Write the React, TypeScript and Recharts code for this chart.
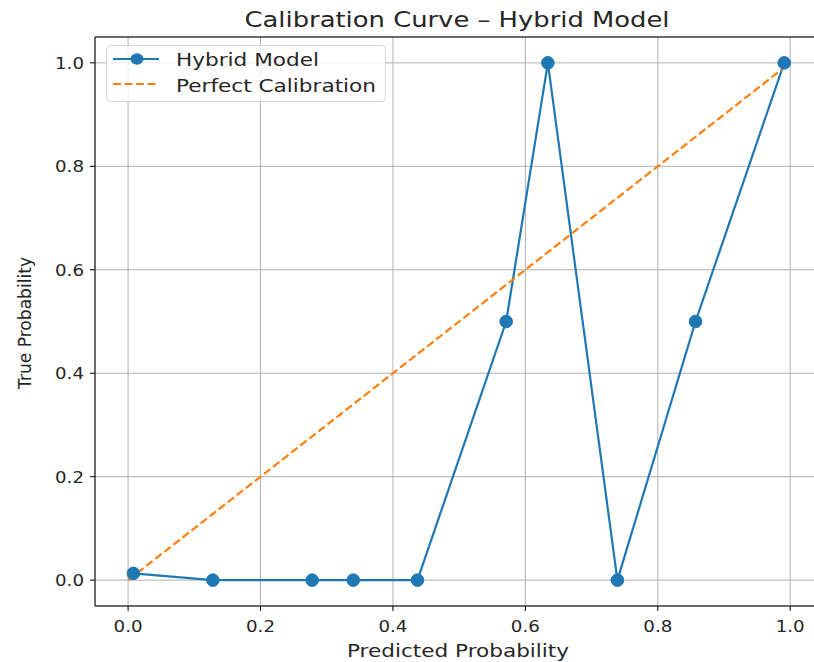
import { ComposedChart, Line, XAxis, YAxis, CartesianGrid, ReferenceLine } from 'recharts'

const predicted = [0.008, 0.128, 0.278, 0.34, 0.437, 0.571, 0.634, 0.739, 0.857, 0.991]
const trueProb = [0.013, 0.0, 0.0, 0.0, 0.0, 0.5, 1.0, 0.0, 0.5, 1.0]
const diagonal = [0, 1]
const ticks = [0, 0.2, 0.4, 0.6, 0.8, 1.0]

const hybrid = predicted.map((x, i) => ({ x, y: trueProb[i] }))
const perfect = diagonal.map((v) => ({ x: v, y: v }))

const font = '"DejaVu Sans", sans-serif'
const blue = '#1f77b4'
const orange = '#ff7f0e'
const ink = '#262626'

function XTick({ x, y, payload }: any) {
  return (
    <text x={x} y={y + 19} textAnchor="middle" fontFamily={font} fontSize={16.5} fill={ink} textLength={29} lengthAdjust="spacingAndGlyphs">
      {payload.value.toFixed(1)}
    </text>
  )
}

function YTick({ x, y, payload }: any) {
  return (
    <text x={x - 4} y={y + 6} textAnchor="end" fontFamily={font} fontSize={16.5} fill={ink} textLength={29} lengthAdjust="spacingAndGlyphs">
      {payload.value.toFixed(1)}
    </text>
  )
}

function LegendBox() {
  return (
    <svg width={300} height={70} style={{ position: 'absolute', left: 100, top: 40 }}>
      <rect x={6.5} y={5.5} width={279} height={56} rx={4} fill="rgba(255,255,255,0.8)" stroke="#d6d6d6" />
      <line x1={13} y1={19} x2={59} y2={19} stroke={blue} strokeWidth={2.2} />
      <ellipse cx={37} cy={19} rx={6.5} ry={5.8} fill={blue} />
      <text x={76} y={26} fontFamily={font} fontSize={17} fill={ink} textLength={143} lengthAdjust="spacingAndGlyphs">
        Hybrid Model
      </text>
      <line x1={13} y1={44} x2={59} y2={44} stroke={orange} strokeWidth={2.2} strokeDasharray="8 3.5" />
      <text x={76} y={52} fontFamily={font} fontSize={17} fill={ink} textLength={200} lengthAdjust="spacingAndGlyphs">
        Perfect Calibration
      </text>
    </svg>
  )
}

export default function App() {
  return (
    <div style={{ position: 'absolute', left: 0, top: 0, width: 814, height: 662, overflow: 'hidden', background: '#fff' }}>
      <ComposedChart width={830} height={662} margin={{ top: 37, right: 10, bottom: 0, left: 0 }}>
        <text x={457} y={27} textAnchor="middle" fontFamily={font} fontSize={22} fill={ink} textLength={425} lengthAdjust="spacingAndGlyphs">
          Calibration Curve – Hybrid Model
        </text>
        <text x={458} y={657} textAnchor="middle" fontFamily={font} fontSize={18} fill={ink} textLength={222} lengthAdjust="spacingAndGlyphs">
          Predicted Probability
        </text>
        <text
          textAnchor="middle"
          fontFamily={font}
          fontSize={15.5}
          fill={ink}
          transform="translate(31 323) scale(1.15 1) rotate(-90)"
          textLength={132}
          lengthAdjust="spacingAndGlyphs"
        >
          True Probability
        </text>
        <CartesianGrid stroke="#b0b0b0" strokeWidth={1} />
        <XAxis
          type="number"
          dataKey="x"
          domain={[-0.05, 1.045]}
          ticks={ticks}
          allowDataOverflow
          stroke="#000"
          tickSize={5}
          tick={<XTick />}
          height={56}
        />
        <YAxis
          type="number"
          dataKey="y"
          domain={[-0.05, 1.05]}
          ticks={ticks}
          allowDataOverflow
          stroke="#000"
          tickSize={5}
          tick={<YTick />}
          width={95}
        />
        <ReferenceLine y={1.05} stroke="#000" strokeWidth={1} />
        <Line
          data={hybrid}
          dataKey="y"
          name="Hybrid Model"
          stroke={blue}
          strokeWidth={2.2}
          dot={{ r: 6.3, fill: blue, stroke: blue, strokeWidth: 1 }}
          isAnimationActive={false}
        />
        <Line
          data={perfect}
          dataKey="y"
          name="Perfect Calibration"
          stroke={orange}
          strokeWidth={2.2}
          strokeDasharray="8 3.5"
          dot={false}
          isAnimationActive={false}
        />
      </ComposedChart>
      <LegendBox />
    </div>
  )
}
